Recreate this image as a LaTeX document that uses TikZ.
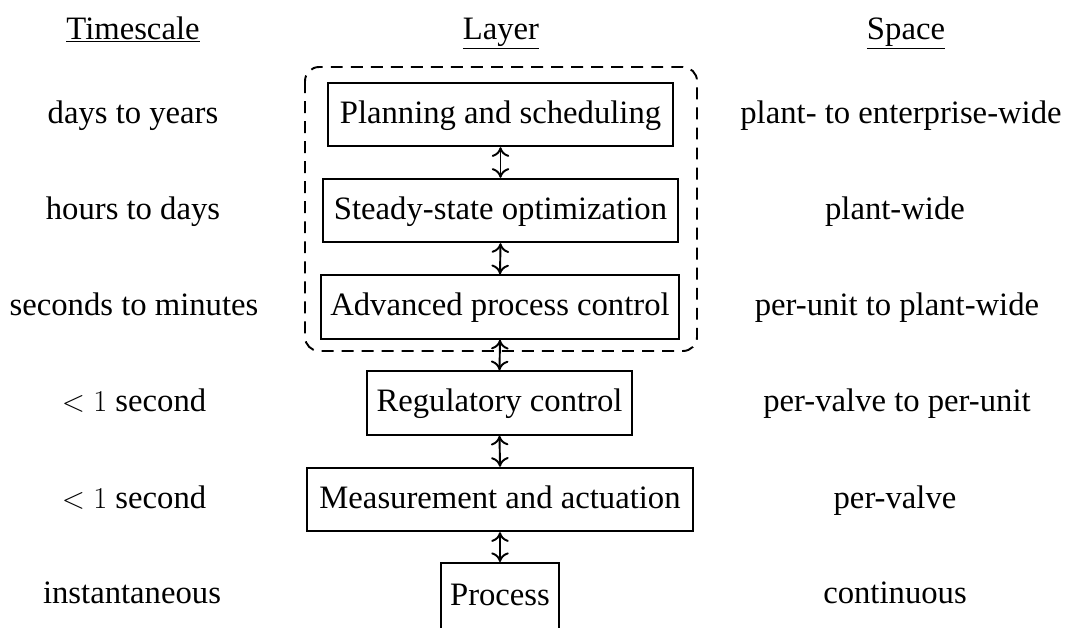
\documentclass[tikz,border=0pt]{standalone}
\usepackage{fontspec}
\setmainfont{Liberation Serif}
\usetikzlibrary{arrows.meta}
\begin{document}
\begin{tikzpicture}[x=0.02cm,y=-0.02cm,
  every node/.style={font=\fontsize{18.6}{22}\selectfont,text height=14pt,text depth=4pt},
  layerbox/.style={draw,line width=1.1pt,inner sep=0pt,minimum height=1.27cm},
  lbl/.style={inner sep=0pt},
  hdr/.style={inner sep=0pt,anchor=base,text height=,text depth=},
  conn/.style={line width=1.1pt,{To[length=5.5pt,width=10pt]}-{To[length=5.5pt,width=10pt]}},
  grp/.style={draw,line width=1.1pt,dash pattern=on 6.8pt off 4.6pt,rounded corners=8pt}]
\useasboundingbox (0,0) rectangle (1071,627);
% headers
\node[hdr] (ht) at (133,39) {\underline{Timescale}};
\node[hdr] (hl) at (501,39) {\underline{Layer}};
\node[hdr] (hs) at (906,39) {\underline{Space}};
% dashed group
\draw[grp] (305,67) rectangle (697,351);
% layer boxes
\node[layerbox,minimum width=6.9cm]  (b1) at (500.5,114.5) {Planning and scheduling};
\node[layerbox,minimum width=7.1cm]  (b2) at (500.5,210.5) {Steady-state optimization};
\node[layerbox,minimum width=7.16cm] (b3) at (500,307) {Advanced process control};
\node[layerbox,minimum width=5.3cm]  (b4) at (499.5,403) {Regulatory control};
\node[layerbox,minimum width=7.72cm] (b5) at (500,499.5) {Measurement and actuation};
\node[layerbox,minimum width=2.36cm,minimum height=1.34cm] (b6) at (500,596.5) {Process};
% connectors
\draw[conn] (b1.south) -- (b2.north);
\draw[conn] (b2.south) -- (b3.north);
\draw[conn] (b3.south) -- (b4.north);
\draw[conn] (b4.south) -- (b5.north);
\draw[conn] (b5.south) -- (b6.north);
% timescale column
\node[lbl] (l1) at (133,114.5) {days to years};
\node[lbl] (l2) at (133,210.5) {hours to days};
\node[lbl] (l3) at (134,307) {seconds to minutes};
\node[lbl] (l4) at (134,403) {$<1$ second};
\node[lbl] (l5) at (134,499.5) {$<1$ second};
\node[lbl] (l6) at (132,595) {instantaneous};
% space column
\node[lbl] (r1) at (901,114.5) {plant- to enterprise-wide};
\node[lbl] (r2) at (895,210.5) {plant-wide};
\node[lbl] (r3) at (897,307) {per-unit to plant-wide};
\node[lbl] (r4) at (897,403) {per-valve to per-unit};
\node[lbl] (r5) at (895,499.5) {per-valve};
\node[lbl] (r6) at (895,595) {continuous};
\end{tikzpicture}
\end{document}
